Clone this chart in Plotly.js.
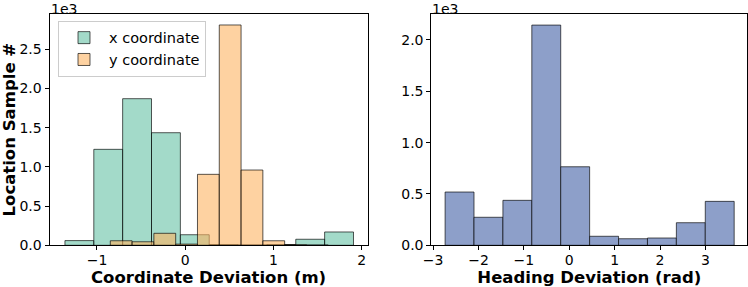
<!DOCTYPE html>
<html>
<head>
<meta charset="utf-8">
<script src="https://cdn.plot.ly/plotly-3.0.1.min.js"></script>
<style>html,body{margin:0;padding:0;background:#fff;}#chart{width:748px;height:287px;}</style>
</head>
<body>
<div id="chart"></div>
<script>
// Left panel: coordinate deviation histograms (bin centers in m, counts)
const xCoordCenters = [-1.1995, -0.8725, -0.5455, -0.2185, 0.1085, 0.4355, 0.7625, 1.0895, 1.4165, 1.7435];
const xCoordCounts  = [60, 1224, 1870, 1436, 135, 10, 5, 10, 77, 170];
const xCoordBinWidth = 0.327;

const yCoordCenters = [-0.7255, -0.4785, -0.2315, 0.0155, 0.2625, 0.5095, 0.7565, 1.0035, 1.2505, 1.4975];
const yCoordCounts  = [58, 45, 153, 15, 905, 2810, 960, 58, 8, 3];
const yCoordBinWidth = 0.247;

// Right panel: heading deviation histogram (bin centers in rad, counts)
const headingCenters = [-2.4185, -1.7815, -1.1445, -0.5075, 0.1295, 0.7665, 1.4035, 2.0405, 2.6775, 3.3145];
const headingCounts  = [519, 273, 438, 2145, 765, 88, 64, 71, 220, 428];
const headingBinWidth = 0.637;

// Tick labels
const leftXTickVals = [-1, 0, 1, 2];
const leftXTickText = ['\u22121', '0', '1', '2'];
const leftYTickVals = [0, 500, 1000, 1500, 2000, 2500];
const leftYTickText = ['0.0', '0.5', '1.0', '1.5', '2.0', '2.5'];
const rightXTickVals = [-3, -2, -1, 0, 1, 2, 3];
const rightXTickText = ['\u22123', '\u22122', '\u22121', '0', '1', '2', '3'];
const rightYTickVals = [0, 500, 1000, 1500, 2000];
const rightYTickText = ['0.0', '0.5', '1.0', '1.5', '2.0'];

const W = 748, H = 287;
const FONT = 'DejaVu Sans, sans-serif';
const TICK = 14, TITLE = 16.5;
const edge = {color: 'rgba(0,0,0,0.65)', width: 1};

const traces = [
  {type: 'bar', name: 'x coordinate', x: xCoordCenters, y: xCoordCounts, width: xCoordBinWidth,
   marker: {color: 'rgba(102,194,165,0.6)', line: edge}, xaxis: 'x', yaxis: 'y', hoverinfo: 'skip'},
  {type: 'bar', name: 'y coordinate', x: yCoordCenters, y: yCoordCounts, width: yCoordBinWidth,
   marker: {color: 'rgba(253,180,98,0.6)', line: edge}, xaxis: 'x', yaxis: 'y', hoverinfo: 'skip'},
  {type: 'bar', name: 'heading', x: headingCenters, y: headingCounts, width: headingBinWidth,
   marker: {color: 'rgb(141,159,201)', line: edge}, xaxis: 'x2', yaxis: 'y2', showlegend: false, hoverinfo: 'skip'}
];

const axisCommon = {
  showline: true, mirror: true, linecolor: 'black', linewidth: 1,
  ticks: 'outside', ticklen: 4, tickwidth: 1, tickcolor: 'black',
  showgrid: false, zeroline: false, tickfont: {family: FONT, size: TICK, color: '#000'},
  tickmode: 'array'
};
const yDom = [(H - 245.3) / H, (H - 14) / H];

const layout = {
  width: W, height: H,
  margin: {l: 0, r: 0, t: 0, b: 0},
  paper_bgcolor: '#fff', plot_bgcolor: '#fff',
  barmode: 'overlay', bargap: 0,
  font: {family: FONT, color: '#000'},
  xaxis: Object.assign({}, axisCommon, {
    domain: [49.5 / W, 367.7 / W], range: [-1.538, 2.068], ticklabelstandoff: -2,
    tickvals: leftXTickVals, ticktext: leftXTickText,
    title: {text: 'Coordinate Deviation (m)', font: {family: FONT, size: TITLE, weight: 'bold'}, standoff: 3}
  }),
  yaxis: Object.assign({}, axisCommon, {
    domain: yDom, range: [0, 2950], anchor: 'x',
    tickvals: leftYTickVals, ticktext: leftYTickText,
    title: {text: 'Location Sample #', font: {family: FONT, size: TITLE, weight: 'bold'}, standoff: 2}
  }),
  xaxis2: Object.assign({}, axisCommon, {
    domain: [431.3 / W, 747.3 / W], range: [-3.041, 3.922], anchor: 'y2', ticklabelstandoff: -2,
    tickvals: rightXTickVals, ticktext: rightXTickText,
    title: {text: 'Heading Deviation (rad)', font: {family: FONT, size: TITLE, weight: 'bold'}, standoff: 3}
  }),
  yaxis2: Object.assign({}, axisCommon, {
    domain: yDom, range: [0, 2253], anchor: 'x2',
    tickvals: rightYTickVals, ticktext: rightYTickText
  }),
  legend: {
    x: 58 / W, y: (H - 20.7) / H, xanchor: 'left', yanchor: 'top',
    bordercolor: '#cccccc', borderwidth: 1, bgcolor: 'rgba(255,255,255,0.8)',
    font: {family: FONT, size: 14.5, color: '#000'}, tracegroupgap: 2, itemwidth: 40
  },
  annotations: [
    {text: '1e3', xref: 'paper', yref: 'paper', x: 49.5 / W, y: 1, xanchor: 'left', yanchor: 'top',
     showarrow: false, font: {family: FONT, size: 14, color: '#000'}, borderpad: 0},
    {text: '1e3', xref: 'paper', yref: 'paper', x: 431.3 / W, y: 1, xanchor: 'left', yanchor: 'top',
     showarrow: false, font: {family: FONT, size: 14, color: '#000'}, borderpad: 0}
  ]
};

Plotly.newPlot('chart', traces, layout, {staticPlot: true, displayModeBar: false});
</script>
</body>
</html>
